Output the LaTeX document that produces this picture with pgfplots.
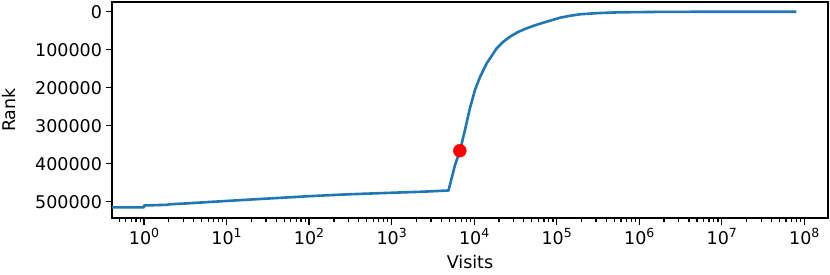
\documentclass[border=0pt]{standalone}
\usepackage{fontspec}
\setmainfont{DejaVu Sans}
\usepackage{pgfplots}
\pgfplotsset{compat=1.18}
\definecolor{mplblue}{HTML}{1F77B4}
\newcommand{\lf}{\fontsize{17.5bp}{21bp}\selectfont}
\newcommand{\tp}[1]{10\raisebox{7bp}{\fontsize{12.5bp}{14bp}\selectfont #1}}
\begin{document}
\begin{tikzpicture}
\begin{axis}[
  scale only axis, width=716bp, height=216bp,
  xmode=log, xmin=0.4095, xmax=1.936e8,
  ymin=-25520, ymax=542900, y dir=reverse,
  axis line style={line width=1.4bp, black},
  every tick/.style={line width=1.2bp, black},
  major tick length=6.5bp, minor tick length=3.7bp,
  tick align=outside, xtick pos=bottom, ytick pos=left,
  xtick={1,10,100,1000,10000,100000,1000000,10000000,100000000},
  xticklabels={\tp{0},\tp{1},\tp{2},\tp{3},\tp{4},\tp{5},\tp{6},\tp{7},\tp{8}},
  minor xtick={0.5,0.6,0.7,0.8,0.9,2,3,4,5,6,7,8,9,20,30,40,50,60,70,80,90,200,300,400,500,600,700,800,900,2000,3000,4000,5000,6000,7000,8000,9000,20000,30000,40000,50000,60000,70000,80000,90000,2e5,3e5,4e5,5e5,6e5,7e5,8e5,9e5,2e6,3e6,4e6,5e6,6e6,7e6,8e6,9e6,2e7,3e7,4e7,5e7,6e7,7e7,8e7,9e7},
  ytick={0,100000,200000,300000,400000,500000},
  yticklabels={0,100000,200000,300000,400000,500000},
  tick label style={font=\lf},
  label style={font=\lf},
  xlabel={Visits}, ylabel={Rank},
  xlabel style={at={(axis description cs:0.5,0)}, anchor=base, yshift=-50bp},
  ylabel style={at={(axis description cs:-0.13408,0.5)}, anchor=base},
]
\addplot[mplblue, line width=2.6bp, line join=round] coordinates {
(0.3,514800) (1,514800) (1,510000) (2,508000) (2,506800) (3,505000) (5,502000)
(10,498000) (30,492000) (100,485500) (300,480500) (1000,476500) (2200,474000)
(4887,470500) (5864,403400) (6732,365800) (7740,311300) (8900,253400)
(10230,206000) (11770,171800) (14190,135800) (18750,96300) (22350,79700)
(27180,65800) (33960,53400) (43300,43700) (54600,35800) (68900,28900)
(109700,15800) (145000,10800) (191500,6800) (253000,5000) (335000,3400)
(585000,1600) (1790000,500) (8000000,80) (80000000,1)
};
\addplot[only marks, mark=*, mark size=6.5bp, color=red] coordinates {(6700,365800)};
\end{axis}
\pgfresetboundingbox
\useasboundingbox ([shift={(-112bp,-57bp)}]current axis.south west) rectangle ([shift={(2bp,2bp)}]current axis.north east);
\end{tikzpicture}
\end{document}
